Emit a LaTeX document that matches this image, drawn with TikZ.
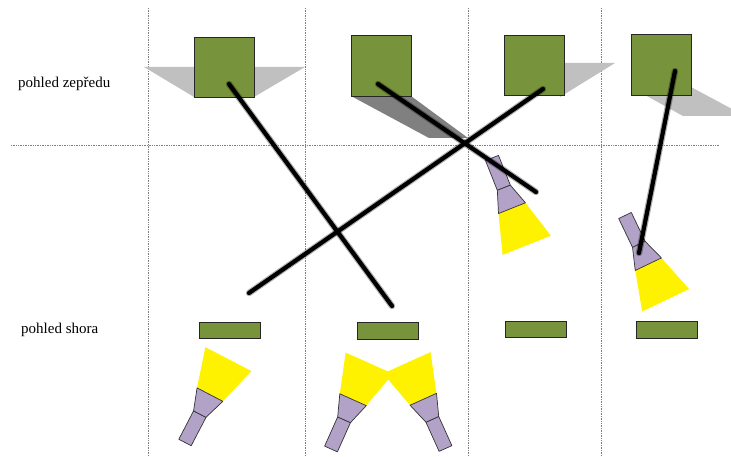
\documentclass[tikz,border=0pt]{standalone}
\usepackage{fontspec}
\setmainfont{Liberation Serif}
\definecolor{olive}{HTML}{77933C}
\definecolor{lavender}{HTML}{B3A2C7}
\definecolor{shadelight}{HTML}{C0C0C0}
\definecolor{shadedark}{HTML}{808080}
\tikzset{
  gridline/.style={densely dotted, gray, line width=0.7pt},
  block/.style={fill=olive, draw=black!85, line width=0.9pt},
  lightshade/.style={fill=shadelight},
  darkshade/.style={fill=shadedark},
  torchpart/.style={fill=lavender, draw=black!80, line width=0.7pt, line join=round},
  beam/.style={fill=yellow},
  label/.style={font=\fontsize{15}{18}\selectfont, inner sep=0pt, anchor=west},
  stringhalo/.style={line width=6.5pt, black, opacity=0.3, line cap=round},
  stringcore/.style={line width=4.2pt, black, line cap=round},
  pics/torch/.style={code={
    \fill[beam] (54,-14.5) -- (94,-26) -- (94,26) -- (54,14.5) -- cycle;
    \draw[torchpart] (0,-7) -- (32,-7) -- (32,7) -- (0,7) -- cycle;
    \draw[torchpart] (32,-7) -- (54,-14.5) -- (54,14.5) -- (32,7) -- cycle;
  }}
}
\begin{document}
\begin{tikzpicture}[x=1pt, y=-1pt]
  \useasboundingbox (0,0) rectangle (731,457);
  \clip (0,0) rectangle (731,457);

  % grid
  \foreach \gx in {148,305,468,601}
    \draw[gridline] (\gx,8) -- (\gx,457);
  \draw[gridline] (11,145) -- (719,145);

  % row labels
  \node[label] (front) at (18,84) {pohled zepředu};
  \node[label] (top) at (21,330) {pohled shora};

  % shadows behind the front-view blocks
  \fill[lightshade] (144,67) -- (305,67) -- (254,97) -- (194,97) -- cycle;
  \fill[darkshade] (351,96) -- (411,96) -- (468,138) -- (429,138) -- cycle;
  \fill[lightshade] (560,63) -- (615,63) -- (560,97) -- cycle;
  \fill[lightshade] (645,95) -- (683,116) -- (745,116) -- (691,87) -- (660,87) -- cycle;

  % front-view blocks
  \draw[block] (194,37) rectangle (254,97);
  \draw[block] (351,35) rectangle (411,96);
  \draw[block] (504,35) rectangle (564,95);
  \draw[block] (631,34) rectangle (691,95);

  % top-view blocks
  \draw[block] (199,322) rectangle (260,338);
  \draw[block] (357,322) rectangle (418,339);
  \draw[block] (505,321) rectangle (566,337);
  \draw[block] (636,321) rectangle (697,338);

  % torches
  \pic[rotate=-68.3] (t1) at (492,158) {torch};
  \pic[rotate=-64.4] (t2) at (625,215.5) {torch};
  \pic[rotate=62.5] (t3) at (185,442.5) {torch};
  \pic[rotate=65.9] (t4) at (331,449) {torch};
  \pic[rotate=114.3] (t5) at (445.5,448.5) {torch};

  % strings
  \coordinate (a1) at (229,84);  \coordinate (a2) at (392,306);
  \coordinate (b1) at (249,293); \coordinate (b2) at (543,89);
  \coordinate (c1) at (378,84);  \coordinate (c2) at (536,192);
  \coordinate (d1) at (675,71);  \coordinate (d2) at (639,253);
  \foreach \p/\q in {a1/a2, b1/b2, c1/c2, d1/d2} {
    \draw[stringhalo] (\p) -- (\q);
    \draw[stringcore] (\p) -- (\q);
  }
\end{tikzpicture}
\end{document}
